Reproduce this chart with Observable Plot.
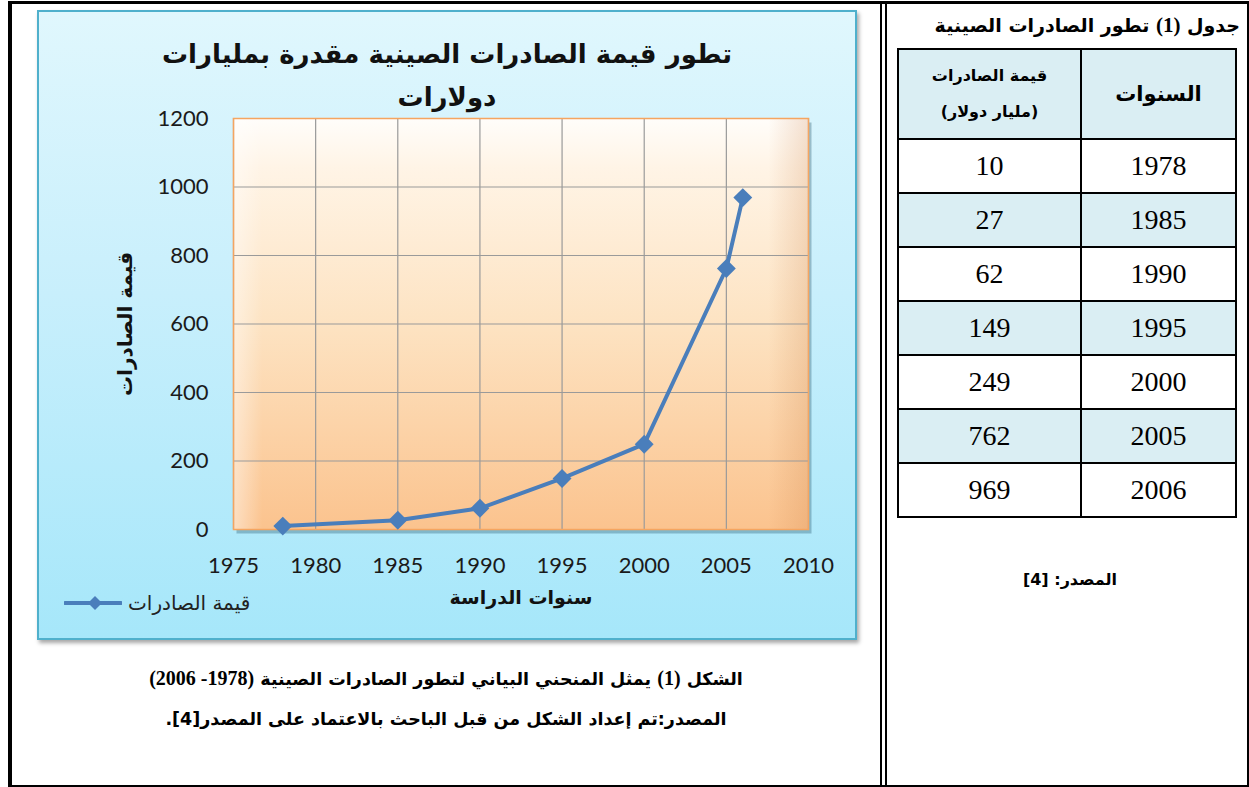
<!DOCTYPE html>
<html lang="ar">
<head>
<meta charset="utf-8">
<script src="https://cdn.jsdelivr.net/npm/d3@7"></script>
<script src="https://cdn.jsdelivr.net/npm/@observablehq/plot@0.6"></script>
<style>
  html, body { margin: 0; padding: 0; background: #fff; }
  #page { position: relative; width: 1249px; height: 787px; overflow: hidden; font-family: "DejaVu Sans", "Liberation Sans", sans-serif; color: #000; }
  .abs { position: absolute; }
  .serif { font-family: "Liberation Serif", "DejaVu Serif", serif; }
  #panel { left: 37px; top: 10px; width: 816px; height: 626px; border: 2px solid #4fb0cc;
           background: linear-gradient(to bottom, #e0f7fd 0%, #c8effc 45%, #a6e7fa 100%);
           box-shadow: 2px 3px 4px rgba(0,0,0,0.35); }
  #chart { left: 37px; top: 10px; }
  #title { left: 37px; top: 33px; width: 820px; text-align: center; direction: rtl;
           font-weight: bold; font-size: 26px; line-height: 43px; color: #111; }
  #legend { left: 64px; top: 590px; height: 26px; display: flex; align-items: center; gap: 6px; }
  #legend span { font-size: 20px; color: #222; direction: rtl; }
  #caption { left: 12px; top: 658px; width: 868px; text-align: center; direction: rtl;
             font-weight: bold; font-size: 17.5px; line-height: 40px; }
  #caption .serif { font-size: 20px; }
  #tabletitle { left: 890px; top: 13px; width: 350px; text-align: right; direction: rtl; font-weight: bold; font-size: 19px; }
  #tabletitle .serif { font-size: 21px; }
  table { position: absolute; left: 897px; top: 48px; border-collapse: collapse; direction: rtl; }
  td, th { border: 2px solid #000; text-align: center; padding: 0; }
  th { background: #daeef3; font-weight: bold; }
  td { font-family: "Liberation Serif", serif; font-size: 28px; height: 52px; }
  tr.alt td { background: #daeef3; }
  #src { left: 980px; top: 570px; width: 180px; text-align: center; direction: rtl; font-weight: bold; font-size: 16px; }
</style>
</head>
<body>
<div id="page">
  <div class="abs" style="left:8px;top:1px;width:1235px;height:781px;border:3px solid #000;border-left-width:4px;"></div>
  <div class="abs" style="left:880px;top:1px;width:2px;height:786px;background:#000;"></div>
  <div class="abs" style="left:885px;top:1px;width:2px;height:786px;background:#000;"></div>

  <div id="panel" class="abs"></div>
  <div id="chart" class="abs"></div>
  <div id="title" class="abs">تطور قيمة الصادرات الصينية مقدرة بمليارات<br>دولارات</div>
  <div id="legend" class="abs">
    <svg width="58" height="16"><line x1="1" y1="8" x2="57" y2="8" stroke="#4a7ebb" stroke-width="4" stroke-linecap="round"/><path d="M31 1 L38 8 L31 15 L24 8 Z" fill="#4a7ebb"/></svg>
    <span>قيمة الصادرات</span>
  </div>
  <div id="caption" class="abs">
    <div>الشكل <span class="serif">(1)</span> يمثل المنحني البياني لتطور الصادرات الصينية <span class="serif">(1978- 2006)</span></div>
    <div>المصدر:تم إعداد الشكل من قبل الباحث بالاعتماد على المصدر[4].</div>
  </div>

  <div id="tabletitle" class="abs">جدول <span class="serif">(1)</span> تطور الصادرات الصينية</div>
  <table id="tbl"></table>
  <div id="src" class="abs">المصدر: [4]</div>
</div>

<script>
// ---- data ----
const years = [1978, 1985, 1990, 1995, 2000, 2005, 2006];
const exportsBn = [10, 27, 62, 149, 249, 762, 969];
const xTicks = [1975, 1980, 1985, 1990, 1995, 2000, 2005, 2010];
const yTicks = [0, 200, 400, 600, 800, 1000, 1200];
const colYears = "السنوات";
const colValue = ["قيمة الصادرات", "(مليار دولار)"];
const xLabel = "سنوات الدراسة";
const yLabel = "قيمة الصادرات";

const data = years.map((y, i) => ({year: y, value: exportsBn[i]}));

const chart = Plot.plot({
  width: 820,
  height: 630,
  marginLeft: 196,
  marginRight: 49,
  marginTop: 108,
  marginBottom: 111,
  style: {background: "transparent", fontFamily: "Lato, 'Open Sans', sans-serif", fontSize: "22px", color: "#1a1a1a", overflow: "visible"},
  x: {domain: [1975, 2010], label: null, axis: null},
  y: {domain: [0, 1200], label: null, axis: null},
  marks: [
    Plot.frame({fill: "rgba(40,90,110,0.35)", dx: 3, dy: 4}),
    Plot.frame({fill: "url(#plotBg)"}),
    Plot.frame({fill: "url(#bevel)"}),
    Plot.gridX(xTicks, {stroke: "#9a9a9a", strokeOpacity: 1, strokeWidth: 1.2}),
    Plot.gridY(yTicks, {stroke: "#9a9a9a", strokeOpacity: 1, strokeWidth: 1.2}),
    Plot.frame({stroke: "#f5a560", strokeWidth: 1.5}),
    Plot.axisX(xTicks, {tickSize: 0, tickPadding: 28, tickFormat: d => String(d), fontSize: 22}),
    Plot.axisY(yTicks, {tickSize: 0, tickPadding: 25, tickFormat: d => String(d), fontSize: 22}),
    Plot.text([xLabel], {frameAnchor: "bottom", dy: 74, textAnchor: "middle", fontWeight: "bold", fontSize: 19, fontFamily: "DejaVu Sans", fill: "#111"}),
    Plot.text([yLabel], {frameAnchor: "left", dx: -108, textAnchor: "middle", rotate: -90, fontWeight: "bold", fontSize: 20, fontFamily: "DejaVu Sans", fill: "#111"}),
    Plot.line(data, {x: "year", y: "value", stroke: "#4a7ebb", strokeWidth: 4}),
    Plot.dot(data, {x: "year", y: "value", symbol: "diamond2", r: 8.5, fill: "#4a7ebb", stroke: "none"})
  ]
});
const ns = "http://www.w3.org/2000/svg";
const defs = document.createElementNS(ns, "defs");
defs.innerHTML = `
  <linearGradient id="plotBg" x1="0" y1="0" x2="0" y2="1">
    <stop offset="0" stop-color="#fffdfa"/>
    <stop offset="0.12" stop-color="#fff4e6"/>
    <stop offset="0.5" stop-color="#fde3c2"/>
    <stop offset="1" stop-color="#fbc38e"/>
  </linearGradient>
  <linearGradient id="bevel" x1="0" y1="0" x2="1" y2="0">
    <stop offset="0" stop-color="#ffffff" stop-opacity="0.45"/>
    <stop offset="0.05" stop-color="#ffffff" stop-opacity="0"/>
    <stop offset="0.93" stop-color="#c8783c" stop-opacity="0"/>
    <stop offset="1" stop-color="#c8783c" stop-opacity="0.22"/>
  </linearGradient>`;
chart.prepend(defs);
document.getElementById("chart").appendChild(chart);

// table built from the same arrays
const tbl = document.getElementById("tbl");
let html = `<tr style="height:90px"><th style="width:153px;font-size:21px">${colYears}</th><th style="width:181px;font-size:16px;line-height:36px">${colValue[0]}<br>${colValue[1]}</th></tr>`;
years.forEach((y, i) => {
  html += `<tr class="${i % 2 === 1 ? "alt" : ""}"><td>${y}</td><td>${exportsBn[i]}</td></tr>`;
});
tbl.innerHTML = html;
</script>
</body>
</html>
